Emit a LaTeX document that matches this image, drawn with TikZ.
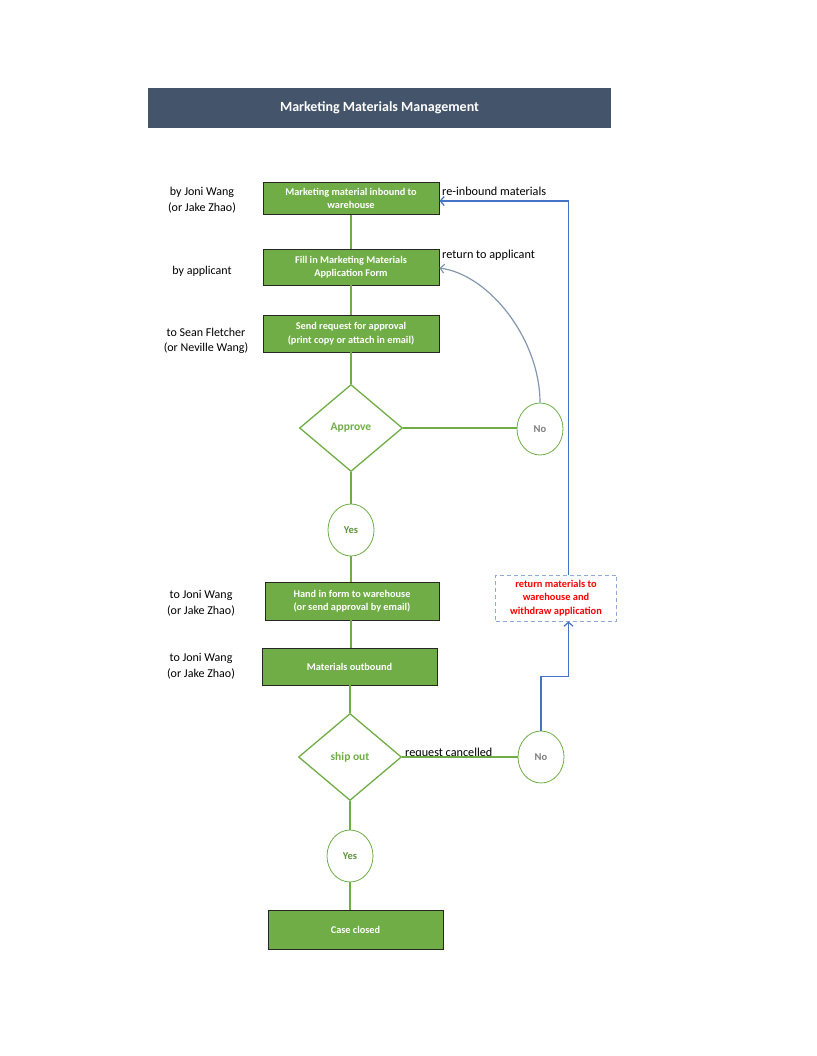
\documentclass[tikz,border=0pt]{standalone}
\usepackage{fontspec}
\setmainfont{Carlito}
\usetikzlibrary{shapes.geometric,arrows.meta}
\definecolor{tgreen}{HTML}{70AD47}
\definecolor{tslate}{HTML}{44546A}
\definecolor{tblue}{HTML}{4472C4}
\definecolor{tgrayblue}{HTML}{8497B0}
\definecolor{tdash}{HTML}{8FAADC}
\definecolor{tno}{HTML}{7F7F7F}
\begin{document}
\begin{tikzpicture}[x=1pt,y=-1pt,
  stepbox/.style={draw=black!85,line width=0.9pt,fill=tgreen,text=white,font=\fontsize{10.3}{13.5}\selectfont\bfseries,align=center,inner sep=0pt},
  decide/.style={diamond,draw=tgreen,line width=1.3pt,fill=white,minimum width=103pt,minimum height=87pt,inner sep=0pt,text=tgreen,font=\fontsize{11.5}{13}\selectfont\bfseries},
  yesnode/.style={ellipse,draw=tgreen,line width=0.8pt,fill=white,minimum width=46pt,minimum height=52pt,inner sep=0pt,font=\fontsize{10.5}{12}\selectfont\bfseries},
  sidelabel/.style={font=\fontsize{12}{15.5}\selectfont,align=center,inner sep=0pt},
  notelabel/.style={font=\fontsize{12.2}{14}\selectfont,anchor=base west,inner sep=0pt},
  flow/.style={draw=tgreen,line width=1.4pt},
  tip/.style={-{Straight Barb[length=4pt,width=9pt,line width=1.2pt]}}
]
\useasboundingbox (0,0) rectangle (816,1056);
\fill[white] (0,0) rectangle (816,1056);

% title
\node[fill=tslate,minimum width=463pt,minimum height=40pt,inner sep=0pt,text=white,font=\fontsize{14}{16}\selectfont\bfseries] (title) at (379.5,108) {Marketing Materials Management};

% steps
\node[stepbox,minimum width=176pt,minimum height=32pt] (b1) at (351,198.5) {Marketing material inbound to\\warehouse};
\node[stepbox,minimum width=176pt,minimum height=36pt] (b2) at (351,267) {Fill in Marketing Materials\\Application Form};
\node[stepbox,minimum width=176pt,minimum height=37pt] (b3) at (351,333.5) {Send request for approval\\(print copy or attach in email)};
\node[decide] (d1) at (351,428) {Approve};
\node[yesnode,text=tno] (no1) at (540,429) {No};
\node[yesnode,text=tgreen!85!black] (yes1) at (351,530) {Yes};
\node[stepbox,minimum width=174pt,minimum height=38pt] (b4) at (352,601) {Hand in form to warehouse\\(or send approval by email)};
\node[stepbox,minimum width=175pt,minimum height=37pt] (b5) at (349.5,666.5) {Materials outbound};
\node[decide] (d2) at (350,757) {ship out};
\node[yesnode,text=tno] (no2) at (541,757) {No};
\node[yesnode,text=tgreen!85!black] (yes2) at (350,856) {Yes};
\node[stepbox,minimum width=175pt,minimum height=39pt] (b6) at (355.5,929.5) {Case closed};
\node[draw=tdash,line width=0.9pt,dash pattern=on 4pt off 3pt,minimum width=121pt,minimum height=46pt,inner sep=0pt,text=red,align=center,font=\fontsize{10.4}{13.5}\selectfont\bfseries] (ret) at (556,598) {return materials to\\warehouse and\\withdraw application};

% side labels
\node[sidelabel] (l1) at (202,200) {by Joni Wang\\(or Jake Zhao)};
\node[sidelabel] (l2) at (202,271) {by applicant};
\node[sidelabel] (l3) at (206,341) {to Sean Fletcher\\(or Neville Wang)};
\node[sidelabel] (l4) at (201,603) {to Joni Wang\\(or Jake Zhao)};
\node[sidelabel] (l5) at (201,666) {to Joni Wang\\(or Jake Zhao)};
\node[notelabel] (n1) at (442,196) {re-inbound materials};
\node[notelabel] (n2) at (442,259) {return to applicant};
\node[notelabel] (n3) at (405,756) {request cancelled};

% flow lines
\draw[flow] (b1) -- (b2);
\draw[flow] (b2) -- (b3);
\draw[flow] (b3) -- (d1);
\draw[flow] (d1) -- (yes1);
\draw[flow] (yes1) -- (yes1 |- b4.north);
\draw[flow] (b4.south -| yes1) -- (b5.north -| yes1);
\draw[flow] (b5.south -| d2) -- (d2);
\draw[flow] (d2) -- (yes2);
\draw[flow] (yes2) -- (yes2 |- b6.north);
\draw[flow] (d1.east) -- (d1.east -| no1.west);
\draw[flow] (d2.east) -- (no2.west);

% return paths
\draw[tgrayblue,line width=1.2pt,tip] (no1.north) .. controls (540,340) and (490,275) .. ([yshift=-1pt]b2.east);
\draw[tblue,line width=1.3pt,tip] (no2.north) -- ++(0,-54) -| ([xshift=12.5pt]ret.south);
\draw[tblue,line width=1.3pt,tip] ([xshift=12.5pt]ret.north) |- ([yshift=-2.5pt]b1.east);
\end{tikzpicture}
\end{document}
